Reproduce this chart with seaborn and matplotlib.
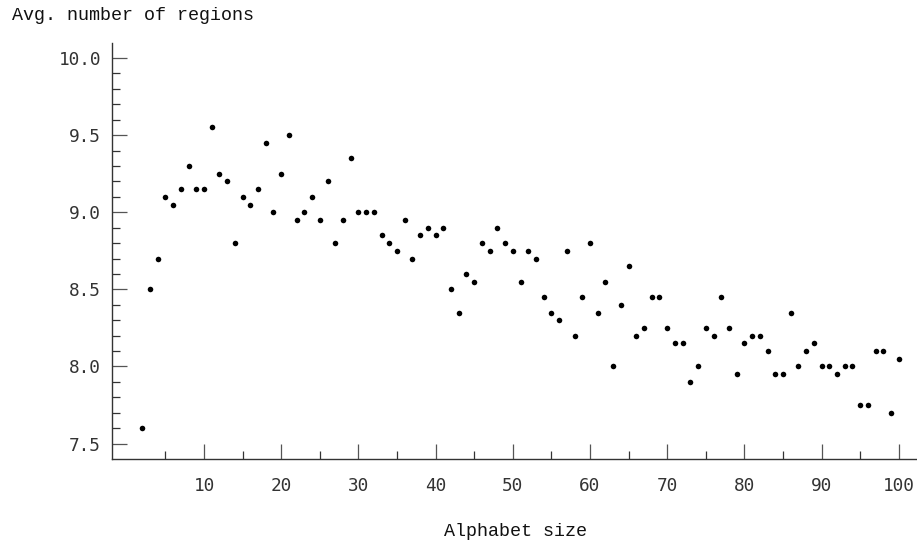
import numpy as np
import pandas as pd
import matplotlib
matplotlib.use("Agg")
import matplotlib.pyplot as plt
import seaborn as sns
from matplotlib.ticker import FixedLocator

# alphabet sizes 2..100 and the average number of regions
alphabet_size = list(range(2, 101))
avg_regions = [
    7.60, 8.50, 8.70, 9.10, 9.05, 9.15, 9.30, 9.15, 9.15,          # 2-10
    9.55, 9.25, 9.20, 8.80, 9.10, 9.05, 9.15, 9.45, 9.00, 9.25,    # 11-20
    9.50, 8.95, 9.00, 9.10, 8.95, 9.20, 8.80, 8.95, 9.35, 9.00,    # 21-30
    9.00, 9.00, 8.85, 8.80, 8.75, 8.95, 8.70, 8.85, 8.90, 8.85,    # 31-40
    8.90, 8.50, 8.35, 8.60, 8.55, 8.80, 8.75, 8.90, 8.80, 8.75,    # 41-50
    8.55, 8.75, 8.70, 8.45, 8.35, 8.30, 8.75, 8.20, 8.45, 8.80,    # 51-60
    8.35, 8.55, 8.00, 8.40, 8.65, 8.20, 8.25, 8.45, 8.45, 8.25,    # 61-70
    8.15, 8.15, 7.90, 8.00, 8.25, 8.20, 8.45, 8.25, 7.95, 8.15,    # 71-80
    8.20, 8.20, 8.10, 7.95, 7.95, 8.35, 8.00, 8.10, 8.15, 8.00,    # 81-90
    8.00, 7.95, 8.00, 8.00, 7.75, 7.75, 8.10, 8.10, 7.70, 8.05,    # 91-100
]
x_ticks = [10, 20, 30, 40, 50, 60, 70, 80, 90, 100]
y_ticks = [7.5, 8.0, 8.5, 9.0, 9.5, 10.0]

df = pd.DataFrame({"size": alphabet_size, "regions": avg_regions})

sns.set_style("white", {
    "xtick.direction": "in", "ytick.direction": "in",
    "xtick.bottom": True, "ytick.left": True,
})

fig = plt.figure(figsize=(9.17, 5.40), dpi=100)
ax = fig.add_axes([0.1216, 0.15, 0.8784, 0.771])

sns.scatterplot(data=df, x="size", y="regions", ax=ax, color="black",
                s=16, linewidth=0, legend=False)

ax.set_xlim(-1.98, 102.36)
ax.set_ylim(7.4, 10.1)

ax.set_xticks(x_ticks)
ax.set_yticks(y_ticks)
ax.set_xticklabels([str(v) for v in x_ticks])
ax.set_yticklabels([f"{v:.1f}" for v in y_ticks])
# minor ticks: every 5 on x, every 0.1 on y, none on the axis ends
ax.xaxis.set_minor_locator(FixedLocator(np.arange(5, 100, 10)))
y_minor = [v for v in np.round(np.arange(7.6, 10.0, 0.1), 2) if round(v * 2) != v * 2]
ax.yaxis.set_minor_locator(FixedLocator(y_minor))

for side in ["top", "right"]:
    ax.spines[side].set_visible(False)
for side in ["left", "bottom"]:
    ax.spines[side].set_color("#333333")
    ax.spines[side].set_linewidth(1.0)

ax.tick_params(axis="both", which="major", direction="in", length=10.8,
               width=0.9, color="#555555", labelcolor="#333333",
               bottom=True, left=True, top=False, right=False)
ax.tick_params(axis="both", which="minor", direction="in", length=5.5,
               width=0.9, color="#333333",
               bottom=True, left=True, top=False, right=False)
ax.tick_params(axis="x", which="major", pad=13)
ax.tick_params(axis="y", which="major", pad=7.5)

for lab in ax.get_xticklabels() + ax.get_yticklabels():
    lab.set_fontfamily("DejaVu Sans Mono")
    lab.set_fontsize(12.8)

ax.set_xlabel("")
ax.set_ylabel("")

fig.text(11.7 / 917, 1 - 15 / 540, "Avg. number of regions", family="Liberation Mono",
         fontsize=13.2, color="#111111", ha="left", va="center")
fig.text(515 / 917, 1 - 531 / 540, "Alphabet size", family="Liberation Mono",
         fontsize=13.2, color="#111111", ha="center", va="center")

fig.savefig("out.png", dpi=100)
plt.close(fig)
